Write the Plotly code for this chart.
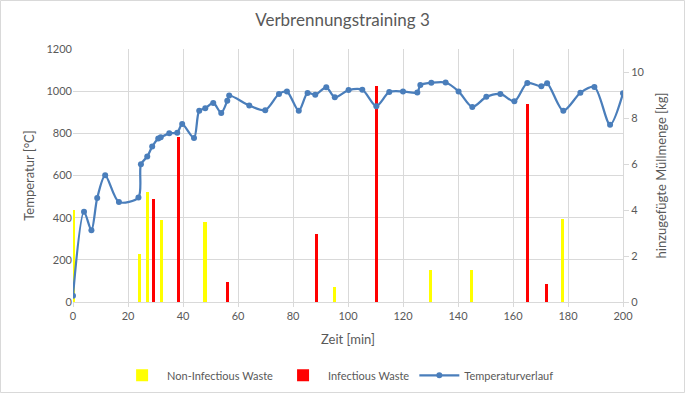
import plotly.graph_objects as go

# Temperature course (min, °C)
temp_t = [0, 4, 6.7, 8.8, 11.7, 16.7, 23.8, 24.7, 27, 28.8, 31, 31.9, 35, 37.9, 39.7, 44,
          45.9, 48.1, 51, 53.9, 56.1, 56.8, 64.1, 69.9, 74.9, 77.8, 82.1, 85.3, 88.1, 92.1,
          95.2, 100.2, 105.2, 110.3, 115, 120, 125.2, 126.3, 130.3, 135.5, 140.2, 145.2,
          150.3, 155.4, 160.5, 165.2, 170.3, 172.4, 178.3, 184.5, 189.6, 195.3, 200]
temp_c = [30, 428, 340, 493, 601, 474, 496, 653, 690, 737, 775, 781, 800, 803, 844, 778,
          907, 919, 944, 897, 954, 979, 932, 910, 987, 998, 907, 991, 983, 1018,
          971, 1005, 1007, 929, 996, 999, 994, 1029, 1040, 1041, 999, 925,
          973, 987, 952, 1039, 1023, 1037, 907, 992, 1020, 841, 990]

# Waste additions (min, kg)
noninf_t = [0, 24.3, 27.2, 32.3, 48, 95, 130, 145, 178]
noninf_kg = [4.0, 2.1, 4.8, 3.57, 3.5, 0.67, 1.4, 1.4, 3.6]
inf_t = [29.4, 38.5, 56.2, 88.4, 110.4, 165.4, 172.3]
inf_kg = [4.48, 7.16, 0.87, 2.96, 9.39, 8.6, 0.78]

txt = "#595959"
grid = "#D9D9D9"
font = "Lato"

fig = go.Figure()
fig.add_trace(go.Bar(x=noninf_t, y=noninf_kg, name="Non-Infectious Waste",
                     marker=dict(color="#FFFF00", line=dict(width=0)), width=1.1,
                     yaxis="y2"))
fig.add_trace(go.Bar(x=inf_t, y=inf_kg, name="Infectious Waste",
                     marker=dict(color="#FF0000", line=dict(width=0)), width=1.1,
                     yaxis="y2"))
fig.add_trace(go.Scatter(x=temp_t, y=temp_c, name="Temperaturverlauf", mode="lines+markers",
                         line=dict(color="#4A7EBB", width=2.25, shape="spline", smoothing=0.8),
                         marker=dict(color="#4A7EBB", size=6), yaxis="y"))

fig.update_layout(
    width=685, height=393,
    margin=dict(l=73, r=62, t=49, b=91, autoexpand=False),
    paper_bgcolor="white", plot_bgcolor="white",
    font=dict(family=font, size=11, color=txt),
    title=dict(text="Verbrennungstraining 3", x=0.5, xanchor="center", y=0.95, yanchor="middle",
               font=dict(family=font, size=17, color=txt)),
    barmode="overlay", bargap=0,
    showlegend=True,
    legend=dict(orientation="h", x=0.482, xanchor="center", y=-0.29, yanchor="middle",
                font=dict(family=font, size=11, color=txt), itemwidth=40,
                traceorder="normal"),
    xaxis=dict(range=[0, 200], dtick=20, tick0=0, showgrid=True, gridcolor=grid, gridwidth=1,
               showline=True, linecolor=grid, ticks="outside", ticklen=4, tickcolor=grid,
               zeroline=False, title=dict(text="Zeit [min]", standoff=13),
               tickfont=dict(size=11, color=txt)),
    yaxis2=dict(range=[0, 11], dtick=2, tick0=0, side="right", showgrid=False,
                showline=True, linecolor=grid, ticks="outside", ticklen=5, tickcolor=grid,
                zeroline=False, title=dict(text="hinzugefügte Müllmenge [kg]", standoff=13),
                tickfont=dict(size=11, color=txt)),
    yaxis=dict(range=[0, 1200], dtick=200, tick0=0, side="left", overlaying="y2",
               showgrid=True, gridcolor=grid, gridwidth=1, showline=False, zeroline=False,
               ticks="", title=dict(text="Temperatur [°C]", standoff=8),
               tickfont=dict(size=11, color=txt)),
    shapes=[dict(type="rect", xref="paper", yref="paper",
                 x0=-72.5 / 550, x1=(684 - 73 + 0.5) / 550,
                 y0=(302 - 392.5) / 253, y1=(302 - 0.5) / 253,
                 line=dict(color=grid, width=1), fillcolor="rgba(0,0,0,0)", layer="below")],
)

fig.write_html("out.html", config={"displayModeBar": False},
               post_script="document.body.style.margin='0px';document.body.style.overflow='hidden';")
